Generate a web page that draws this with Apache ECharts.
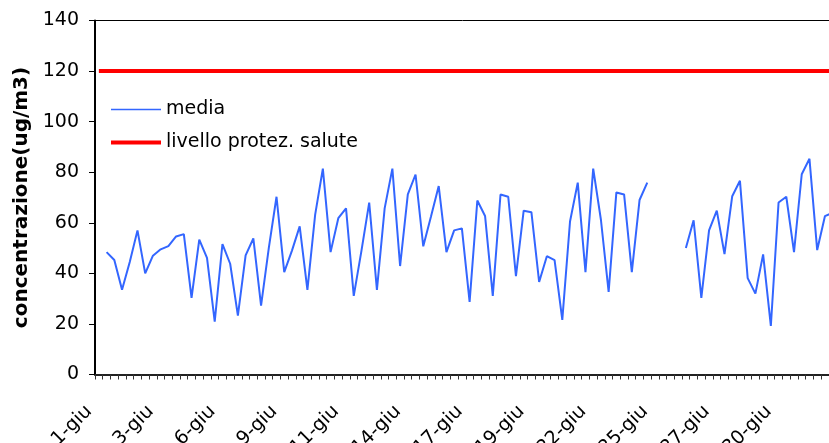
<!DOCTYPE html>
<html>
<head>
<meta charset="utf-8">
<script src="https://cdn.jsdelivr.net/npm/echarts@6/dist/echarts.min.js"></script>
<style>
html,body{margin:0;padding:0;background:#fff;}
#chart{width:829px;height:443px;}
</style>
</head>
<body>
<div id="chart"></div>
<script>
// one label per day; each day has 3 slots on the category axis
const dayLabels = ['1-giu','2-giu','3-giu','4-giu','5-giu','6-giu','7-giu','8-giu','9-giu','10-giu',
  '11-giu','12-giu','13-giu','14-giu','15-giu','16-giu','17-giu','18-giu','19-giu','20-giu',
  '21-giu','22-giu','23-giu','24-giu','25-giu','26-giu','27-giu','28-giu','29-giu','30-giu',
  '1-lug','2-lug'];
const slotsPerDay = 3;
const categories = [];
dayLabels.forEach(function (d) { for (let i = 0; i < slotsPerDay; i++) categories.push(d); });

const media = [
  null, 48.4, 45.3, 33.5, 44.5, 57.0, 40.0, 47.0, 49.5, 50.8,
  54.6, 55.5, 30.3, 53.3, 46.1, 20.9, 51.6, 43.8, 23.3, 47.1,
  53.8, 27.2, 50.0, 70.3, 40.5, 49.0, 58.6, 33.5, 63.1, 81.4,
  48.4, 61.8, 65.7, 31.1, 49.0, 68.0, 33.5, 65.7, 81.4, 42.9,
  71.2, 79.1, 50.7, 62.5, 74.5, 48.4, 57.0, 57.8, 28.7, 68.8,
  62.7, 31.1, 71.2, 70.3, 38.9, 64.8, 64.2, 36.6, 46.8, 45.2,
  21.6, 60.5, 75.9, 40.5, 81.4, 61.2, 32.7, 72.0, 71.2, 40.5,
  69.0, 75.9, null, null, null, null, 50.0, 61.0, 30.3, 57.0,
  64.8, 47.6, 70.5, 76.6, 38.1, 32.0, 47.5, 19.2, 68.0, 70.3,
  48.4, 79.2, 85.3, 49.2, 62.6, 64.0
];
const limitValue = 120;
const livello = categories.map(function () { return limitValue; });

const yMin = 0, yMax = 140, yStep = 20;
const labelEvery = 8;

const chart = echarts.init(document.getElementById('chart'), null, {renderer: 'canvas'});
const FONT = 'DejaVu Sans';
chart.setOption({
  animation: false,
  backgroundColor: '#fff',
  textStyle: {fontFamily: FONT},
  grid: {left: 95, width: 741.5, top: 20.5, bottom: 68.5, show: true, borderColor: '#000', borderWidth: 1,
         containLabel: false, outerBoundsMode: 'none'},
  legend: {
    orient: 'vertical', left: 104, top: 95, itemWidth: 50, itemHeight: 14, itemGap: 14,
    textStyle: {fontFamily: FONT, fontSize: 19, color: '#000', padding: [0, 0, 0, 0]},
    data: [
      {name: 'media', lineStyle: {width: 1.3}, itemStyle: {opacity: 0, color: 'transparent', borderWidth: 0}},
      {name: 'livello protez. salute', lineStyle: {width: 4}, itemStyle: {opacity: 0, color: 'transparent', borderWidth: 0}}
    ]
  },
  xAxis: {
    type: 'category', data: categories, boundaryGap: true,
    axisLine: {lineStyle: {color: '#222', width: 2}},
    axisTick: {show: true, interval: 0, length: 5, lineStyle: {color: '#333', width: 1}},
    axisLabel: {interval: labelEvery - 1, rotate: 45, fontSize: 19, color: '#000', fontFamily: FONT, margin: 24, padding: [0, 14, 0, 0]},
    splitLine: {show: false}
  },
  yAxis: {
    type: 'value', min: yMin, max: yMax, interval: yStep,
    name: 'concentrazione(ug/m3)', nameLocation: 'middle', nameGap: 62,
    nameTextStyle: {fontFamily: FONT, fontSize: 20, fontWeight: 'bold', color: '#000'},
    axisLine: {show: true, lineStyle: {color: '#000', width: 2}},
    axisTick: {show: true, inside: false, length: 6, lineStyle: {color: '#000'}},
    axisLabel: {fontSize: 19, color: '#000', fontFamily: FONT, margin: 16},
    splitLine: {show: false}
  },
  series: [
    {name: 'media', type: 'line', data: media, symbol: 'none', connectNulls: false,
     lineStyle: {color: '#3366ff', width: 2}, itemStyle: {color: '#3366ff'}, z: 3},
    {name: 'livello protez. salute', type: 'line', data: livello, symbol: 'none',
     lineStyle: {color: '#ff0000', width: 4}, itemStyle: {color: '#ff0000'}, z: 2}
  ]
});
</script>
</body>
</html>
